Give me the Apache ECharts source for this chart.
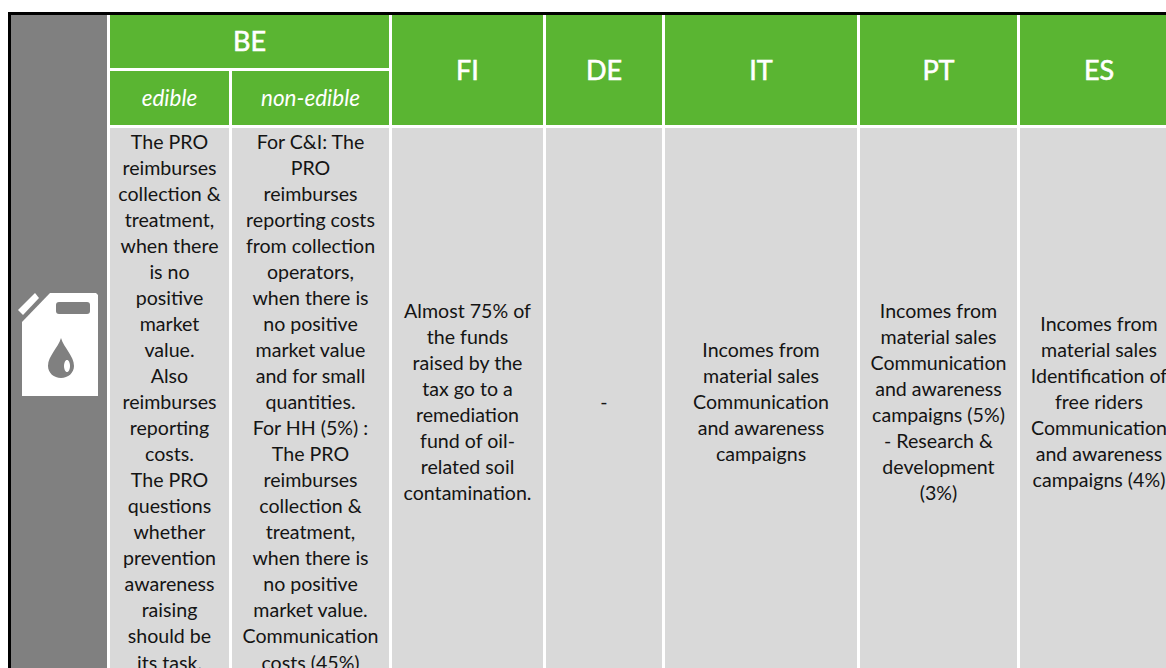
<!DOCTYPE html>
<html>
<head>
<meta charset="utf-8">
<style>
  html, body { margin: 0; padding: 0; background: #fff; }
  #main { width: 1166px; height: 668px; }
</style>
<script src="https://cdn.jsdelivr.net/npm/echarts@6/dist/echarts.min.js"></script>
</head>
<body>
<div id="main"></div>
<script>
const countries = ['BE', 'FI', 'DE', 'IT', 'PT', 'ES'];
const beTypes = ['edible', 'non-edible'];

const beEdible = ['The PRO', 'reimburses', 'collection &', 'treatment,', 'when there', 'is no', 'positive', 'market', 'value.', 'Also', 'reimburses', 'reporting', 'costs.', 'The PRO', 'questions', 'whether', 'prevention', 'awareness', 'raising', 'should be', 'its task.'];
const beNonEdible = ['For C&I: The', 'PRO', 'reimburses', 'reporting costs', 'from collection', 'operators,', 'when there is', 'no positive', 'market value', 'and for small', 'quantities.', 'For HH (5%) :', 'The PRO', 'reimburses', 'collection &', 'treatment,', 'when there is', 'no positive', 'market value.', 'Communication', 'costs (45%)'];
const fiText = ['Almost 75% of', 'the funds', 'raised by the', 'tax go to a', 'remediation', 'fund of oil-', 'related soil', 'contamination.'];
const deText = ['-'];
const itText = ['Incomes from', 'material sales', 'Communication', 'and awareness', 'campaigns'];
const ptText = ['Incomes from', 'material sales', 'Communication', 'and awareness', 'campaigns (5%)', '- Research &', 'development', '(3%)'];
const esText = ['Incomes from', 'material sales', 'Identification of', 'free riders', 'Communication', 'and awareness', 'campaigns (4%)'];

const GREEN = '#5ab532';
const GREY = '#d9d9d9';
const SIDE = '#808080';
const FONT = 'Lato, sans-serif';

// cell boxes, in px on a 1:1 hidden axis
const cells = [
  { x: [110, 389], y: [15, 68], fill: GREEN, text: countries[0], size: 27, heavy: true, color: '#fff' },
  { x: [392, 543], y: [15, 125], fill: GREEN, text: countries[1], size: 27, heavy: true, color: '#fff' },
  { x: [546, 662], y: [15, 125], fill: GREEN, text: countries[2], size: 27, heavy: true, color: '#fff' },
  { x: [665, 857], y: [15, 125], fill: GREEN, text: countries[3], size: 27, heavy: true, color: '#fff' },
  { x: [860, 1017], y: [15, 125], fill: GREEN, text: countries[4], size: 27, heavy: true, color: '#fff' },
  { x: [1020, 1178], y: [15, 125], fill: GREEN, text: countries[5], size: 27, heavy: true, color: '#fff' },
  { x: [110, 229], y: [71, 125], fill: GREEN, text: beTypes[0], size: 22.5, italic: true, color: '#fff' },
  { x: [232, 389], y: [71, 125], fill: GREEN, text: beTypes[1], size: 22.5, italic: true, color: '#fff' },
  { x: [110, 229], y: [128, 668], fill: GREY, lines: beEdible, top: true },
  { x: [232, 389], y: [128, 668], fill: GREY, lines: beNonEdible, top: true },
  { x: [392, 543], y: [128, 675], fill: GREY, lines: fiText },
  { x: [546, 662], y: [128, 675], fill: GREY, lines: deText },
  { x: [665, 857], y: [128, 675], fill: GREY, lines: itText },
  { x: [860, 1017], y: [128, 675], fill: GREY, lines: ptText },
  { x: [1020, 1178], y: [128, 675], fill: GREY, lines: esText }
];

const chart = echarts.init(document.getElementById('main'), null, { renderer: 'svg' });

function renderCell(params, api) {
  const c = cells[api.value(0)];
  const a = api.coord([c.x[0], c.y[0]]);
  const b = api.coord([c.x[1], c.y[1]]);
  const cx = (a[0] + b[0]) / 2;
  const body = c.lines ? c.lines.join('\n') : c.text;
  return {
    type: 'group',
    children: [
      { type: 'rect', shape: { x: a[0], y: a[1], width: b[0] - a[0], height: b[1] - a[1] }, style: { fill: c.fill } },
      {
        type: 'text',
        style: {
          x: cx,
          y: c.top ? a[1] : (a[1] + b[1]) / 2 - (c.lines ? 0 : 1),
          text: body,
          align: 'center',
          verticalAlign: c.top ? 'top' : 'middle',
          lineHeight: 26.05,
          fill: c.color || '#141414',
          // Lato has no medium here, a thin outline gets the header weight
          stroke: c.heavy ? '#fff' : 'none',
          lineWidth: c.heavy ? 0.6 : 0,
          font: (c.italic ? 'italic ' : '') + '400 ' + (c.size || 19.6) + 'px ' + FONT
        }
      }
    ]
  };
}

// jerrycan icon in the grey side column
function renderIcon() {
  return {
    type: 'group',
    children: [
      { type: 'polygon', shape: { points: [[18, 310], [35, 293], [39, 298], [23, 315]] }, style: { fill: '#fff' } },
      { type: 'polygon', shape: { points: [[50, 293], [96, 293], [98, 295], [98, 396], [22, 396], [22, 322]] }, style: { fill: '#fff' } },
      { type: 'rect', shape: { x: 56, y: 302, width: 34, height: 12, r: 3 }, style: { fill: SIDE } },
      { type: 'path', shape: { pathData: 'M13 0 C10 10 0 18 0 28 C0 35 6 40 13 40 C20 40 26 35 26 28 C26 18 16 10 13 0 Z', x: 48, y: 338, width: 26, height: 40 }, style: { fill: SIDE } },
      { type: 'ellipse', shape: { cx: 67, cy: 366, rx: 3, ry: 6 }, style: { fill: '#fff' } }
    ]
  };
}

chart.setOption({
  animation: false,
  backgroundColor: '#fff',
  grid: { left: 0, right: 0, top: 0, bottom: 0 },
  xAxis: { type: 'value', min: 0, max: 1166, show: false },
  yAxis: { type: 'value', min: 0, max: 668, inverse: true, show: false },
  series: [
    {
      type: 'custom',
      clip: false,
      silent: true,
      renderItem: renderCell,
      data: cells.map((c, i) => [i])
    },
    {
      type: 'custom',
      clip: false,
      silent: true,
      z: 5,
      renderItem: renderIcon,
      data: [[0]]
    }
  ],
  graphic: [
    { type: 'rect', z: 1, shape: { x: 8, y: 12, width: 1158, height: 3 }, style: { fill: '#000' }, silent: true },
    { type: 'rect', z: 1, shape: { x: 8, y: 12, width: 3, height: 656 }, style: { fill: '#000' }, silent: true },
    { type: 'rect', z: 1, shape: { x: 11, y: 15, width: 96, height: 653 }, style: { fill: SIDE }, silent: true }
  ]
});
</script>
</body>
</html>
